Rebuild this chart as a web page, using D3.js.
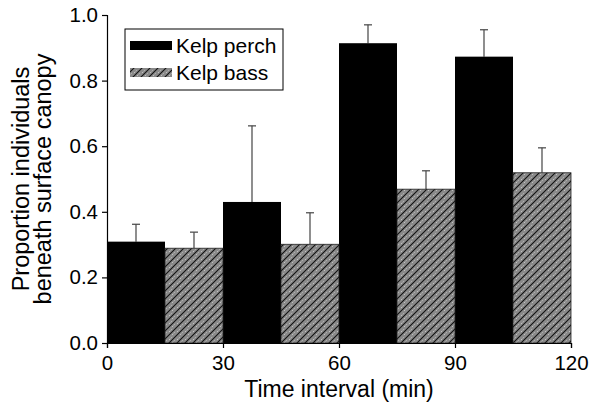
<!DOCTYPE html>
<html>
<head>
<meta charset="utf-8">
<script src="https://cdn.jsdelivr.net/npm/d3@7"></script>
<style>
  body { margin: 0; background: #fff; }
  text { font-family: "Liberation Sans", Arial, sans-serif; }
</style>
</head>
<body>
<div id="chart"></div>
<script>
// data
const intervals = [0, 30, 60, 90];       // start of each 30-min interval
const perchMean = [0.309, 0.430, 0.914, 0.873];
const perchUpper = [0.362, 0.662, 0.970, 0.955];
const bassMean = [0.289, 0.301, 0.469, 0.519];
const bassUpper = [0.338, 0.397, 0.525, 0.595];
const xTicks = [0, 30, 60, 90, 120];
const yTicks = [0, 0.2, 0.4, 0.6, 0.8, 1.0];

const width = 589, height = 404;
const margin = {left: 107, right: 18, top: 15, bottom: 61};

const svg = d3.select("#chart").append("svg")
  .attr("width", width)
  .attr("height", height);

// hatch for kelp bass (grey, dark diagonals, light speckle)
const defs = svg.append("defs");
const pat = defs.append("pattern")
  .attr("id", "hatch")
  .attr("patternUnits", "userSpaceOnUse")
  .attr("width", 8).attr("height", 8);
pat.append("rect").attr("width", 8).attr("height", 8).attr("fill", "#8a8a8a");
pat.append("path").attr("d", "M-2,2 L2,-2 M0,8 L8,0 M6,10 L10,6")
  .attr("stroke", "#111").attr("stroke-width", 1.1);
pat.append("path").attr("d", "M1,4 L4,1 M4,7 L7,4")
  .attr("stroke", "#e0e0e0").attr("stroke-width", 0.9).attr("stroke-dasharray", "1,1.5");

const x = d3.scaleLinear().domain([0, 120]).range([margin.left, 571]);
const y = d3.scaleLinear().domain([0, 1]).range([height - margin.bottom, margin.top]);

const perch = intervals.map((t, i) => ({x0: t, x1: t + 15, v: perchMean[i], e: perchUpper[i]}));
const bass = intervals.map((t, i) => ({x0: t + 15, x1: t + 30, v: bassMean[i], e: bassUpper[i]}));

// error bars (upper only)
function errBars(data, color) {
  const g = svg.append("g");
  data.forEach(d => {
    const cx = x((d.x0 + d.x1) / 2);
    g.append("line").attr("x1", cx).attr("x2", cx)
      .attr("y1", y(d.v)).attr("y2", y(d.e))
      .attr("stroke", color).attr("stroke-width", 1.2);
    g.append("line").attr("x1", cx - 4).attr("x2", cx + 4)
      .attr("y1", y(d.e)).attr("y2", y(d.e))
      .attr("stroke", color).attr("stroke-width", 1.2);
  });
}
errBars(perch, "#444");
errBars(bass, "#444");

svg.append("g").selectAll("rect").data(perch).enter().append("rect")
  .attr("x", d => x(d.x0))
  .attr("width", d => x(d.x1) - x(d.x0))
  .attr("y", d => y(d.v))
  .attr("height", d => y(0) - y(d.v))
  .attr("fill", "#000");

svg.append("g").selectAll("rect").data(bass).enter().append("rect")
  .attr("x", d => x(d.x0))
  .attr("width", d => x(d.x1) - x(d.x0))
  .attr("y", d => y(d.v))
  .attr("height", d => y(0) - y(d.v))
  .attr("fill", "url(#hatch)")
  .attr("stroke", "#222").attr("stroke-width", 0.8);

// axes
const xAxis = svg.append("g")
  .attr("transform", "translate(0," + y(0) + ")")
  .call(d3.axisBottom(x).tickValues(xTicks).tickSize(5).tickPadding(7).tickFormat(d3.format("d")));
const yAxis = svg.append("g")
  .attr("transform", "translate(" + margin.left + ",0)")
  .call(d3.axisLeft(y).tickValues(yTicks).tickSize(5).tickPadding(4).tickFormat(d3.format(".1f")));
[xAxis, yAxis].forEach(a => {
  a.select(".domain").attr("stroke", "#000").attr("stroke-width", 1.2);
  a.selectAll(".tick line").attr("stroke", "#000").attr("stroke-width", 1.2);
  a.selectAll(".tick text").attr("font-size", 20.5).attr("fill", "#000")
    .attr("font-family", "'Liberation Sans', Arial, sans-serif");
});

// axis titles
svg.append("text")
  .attr("x", x(60)).attr("y", 397)
  .attr("text-anchor", "middle").attr("font-size", 23)
  .text("Time interval (min)");
const yl = svg.append("text")
  .attr("transform", "translate(0," + y(0.5) + ") rotate(-90)")
  .attr("text-anchor", "middle").attr("font-size", 23.5);
yl.append("tspan").attr("x", 0).attr("y", 29).text("Proportion individuals");
yl.append("tspan").attr("x", 0).attr("y", 51).text("beneath surface canopy");

// legend
const lg = svg.append("g").attr("transform", "translate(125,29)");
lg.append("rect").attr("width", 158).attr("height", 61)
  .attr("fill", "#fff").attr("stroke", "#000").attr("stroke-width", 1);
const legendItems = [{label: "Kelp perch", fill: "#000"}, {label: "Kelp bass", fill: "url(#hatch)"}];
legendItems.forEach((d, i) => {
  lg.append("rect").attr("x", 5).attr("y", 12 + i * 27)
    .attr("width", 42).attr("height", 9).attr("fill", d.fill);
  lg.append("text").attr("x", 51).attr("y", 24 + i * 27)
    .attr("font-size", 21).text(d.label);
});
</script>
</body>
</html>
